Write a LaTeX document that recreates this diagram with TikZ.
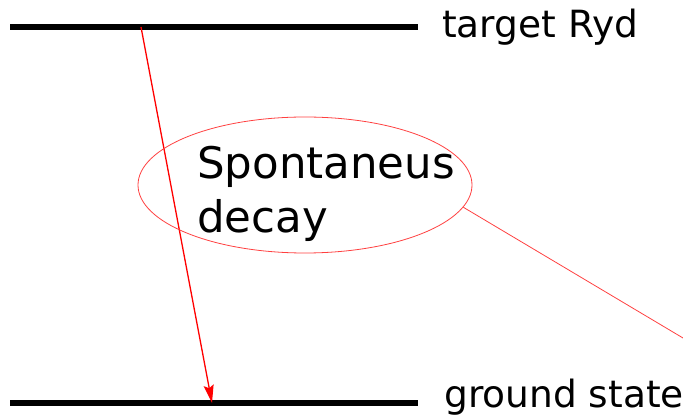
\documentclass[tikz,border=0pt]{standalone}
\usepackage{fontspec}
\setmainfont{DejaVu Sans}
\usetikzlibrary{shapes.geometric, arrows.meta, positioning}

\begin{document}
\begin{tikzpicture}[
    x=1pt, y=-1pt,
    level/.style={line width=6pt, black},
    levellabel/.style={anchor=base west, inner sep=0pt, font=\fontsize{37.5}{45}\selectfont},
    decay/.style={-{Stealth[length=18pt, width=10pt, inset=3pt]}, line width=1.3pt, red},
    bubble/.style={ellipse, draw=red!75, line width=0.8pt, minimum width=334pt, minimum height=136pt, inner sep=0pt},
    pointer/.style={draw=red!75, line width=0.8pt},
]
    \useasboundingbox (0,0) rectangle (683,419);

    % Levels
    \coordinate (ryd west) at (10,27);
    \coordinate (ryd east) at (418,27);
    \coordinate (gnd west) at (10,403);
    \coordinate (gnd east) at (418,403);
    \draw[level] (ryd west) -- (ryd east);
    \draw[level] (gnd west) -- (gnd east);
    \node[levellabel] (ryd) at (442,38) {target Ryd};
    \node[levellabel] (gnd) at (444,408) {ground state};

    % Decay
    \coordinate (from) at (141,27);
    \coordinate (to) at (212,403);
    \draw[decay] (from) -- (to);

    % Callout
    \node[bubble] (bubble) at (305,185) {};
    \node[anchor=north west, inner sep=0pt, align=left, font=\fontsize{43.5}{54}\selectfont] (note) at (197,146) {Spontaneus\\decay};
    \coordinate (tail) at (683,338);
    \draw[pointer] (bubble.-8) -- (tail);

\end{tikzpicture}
\end{document}
